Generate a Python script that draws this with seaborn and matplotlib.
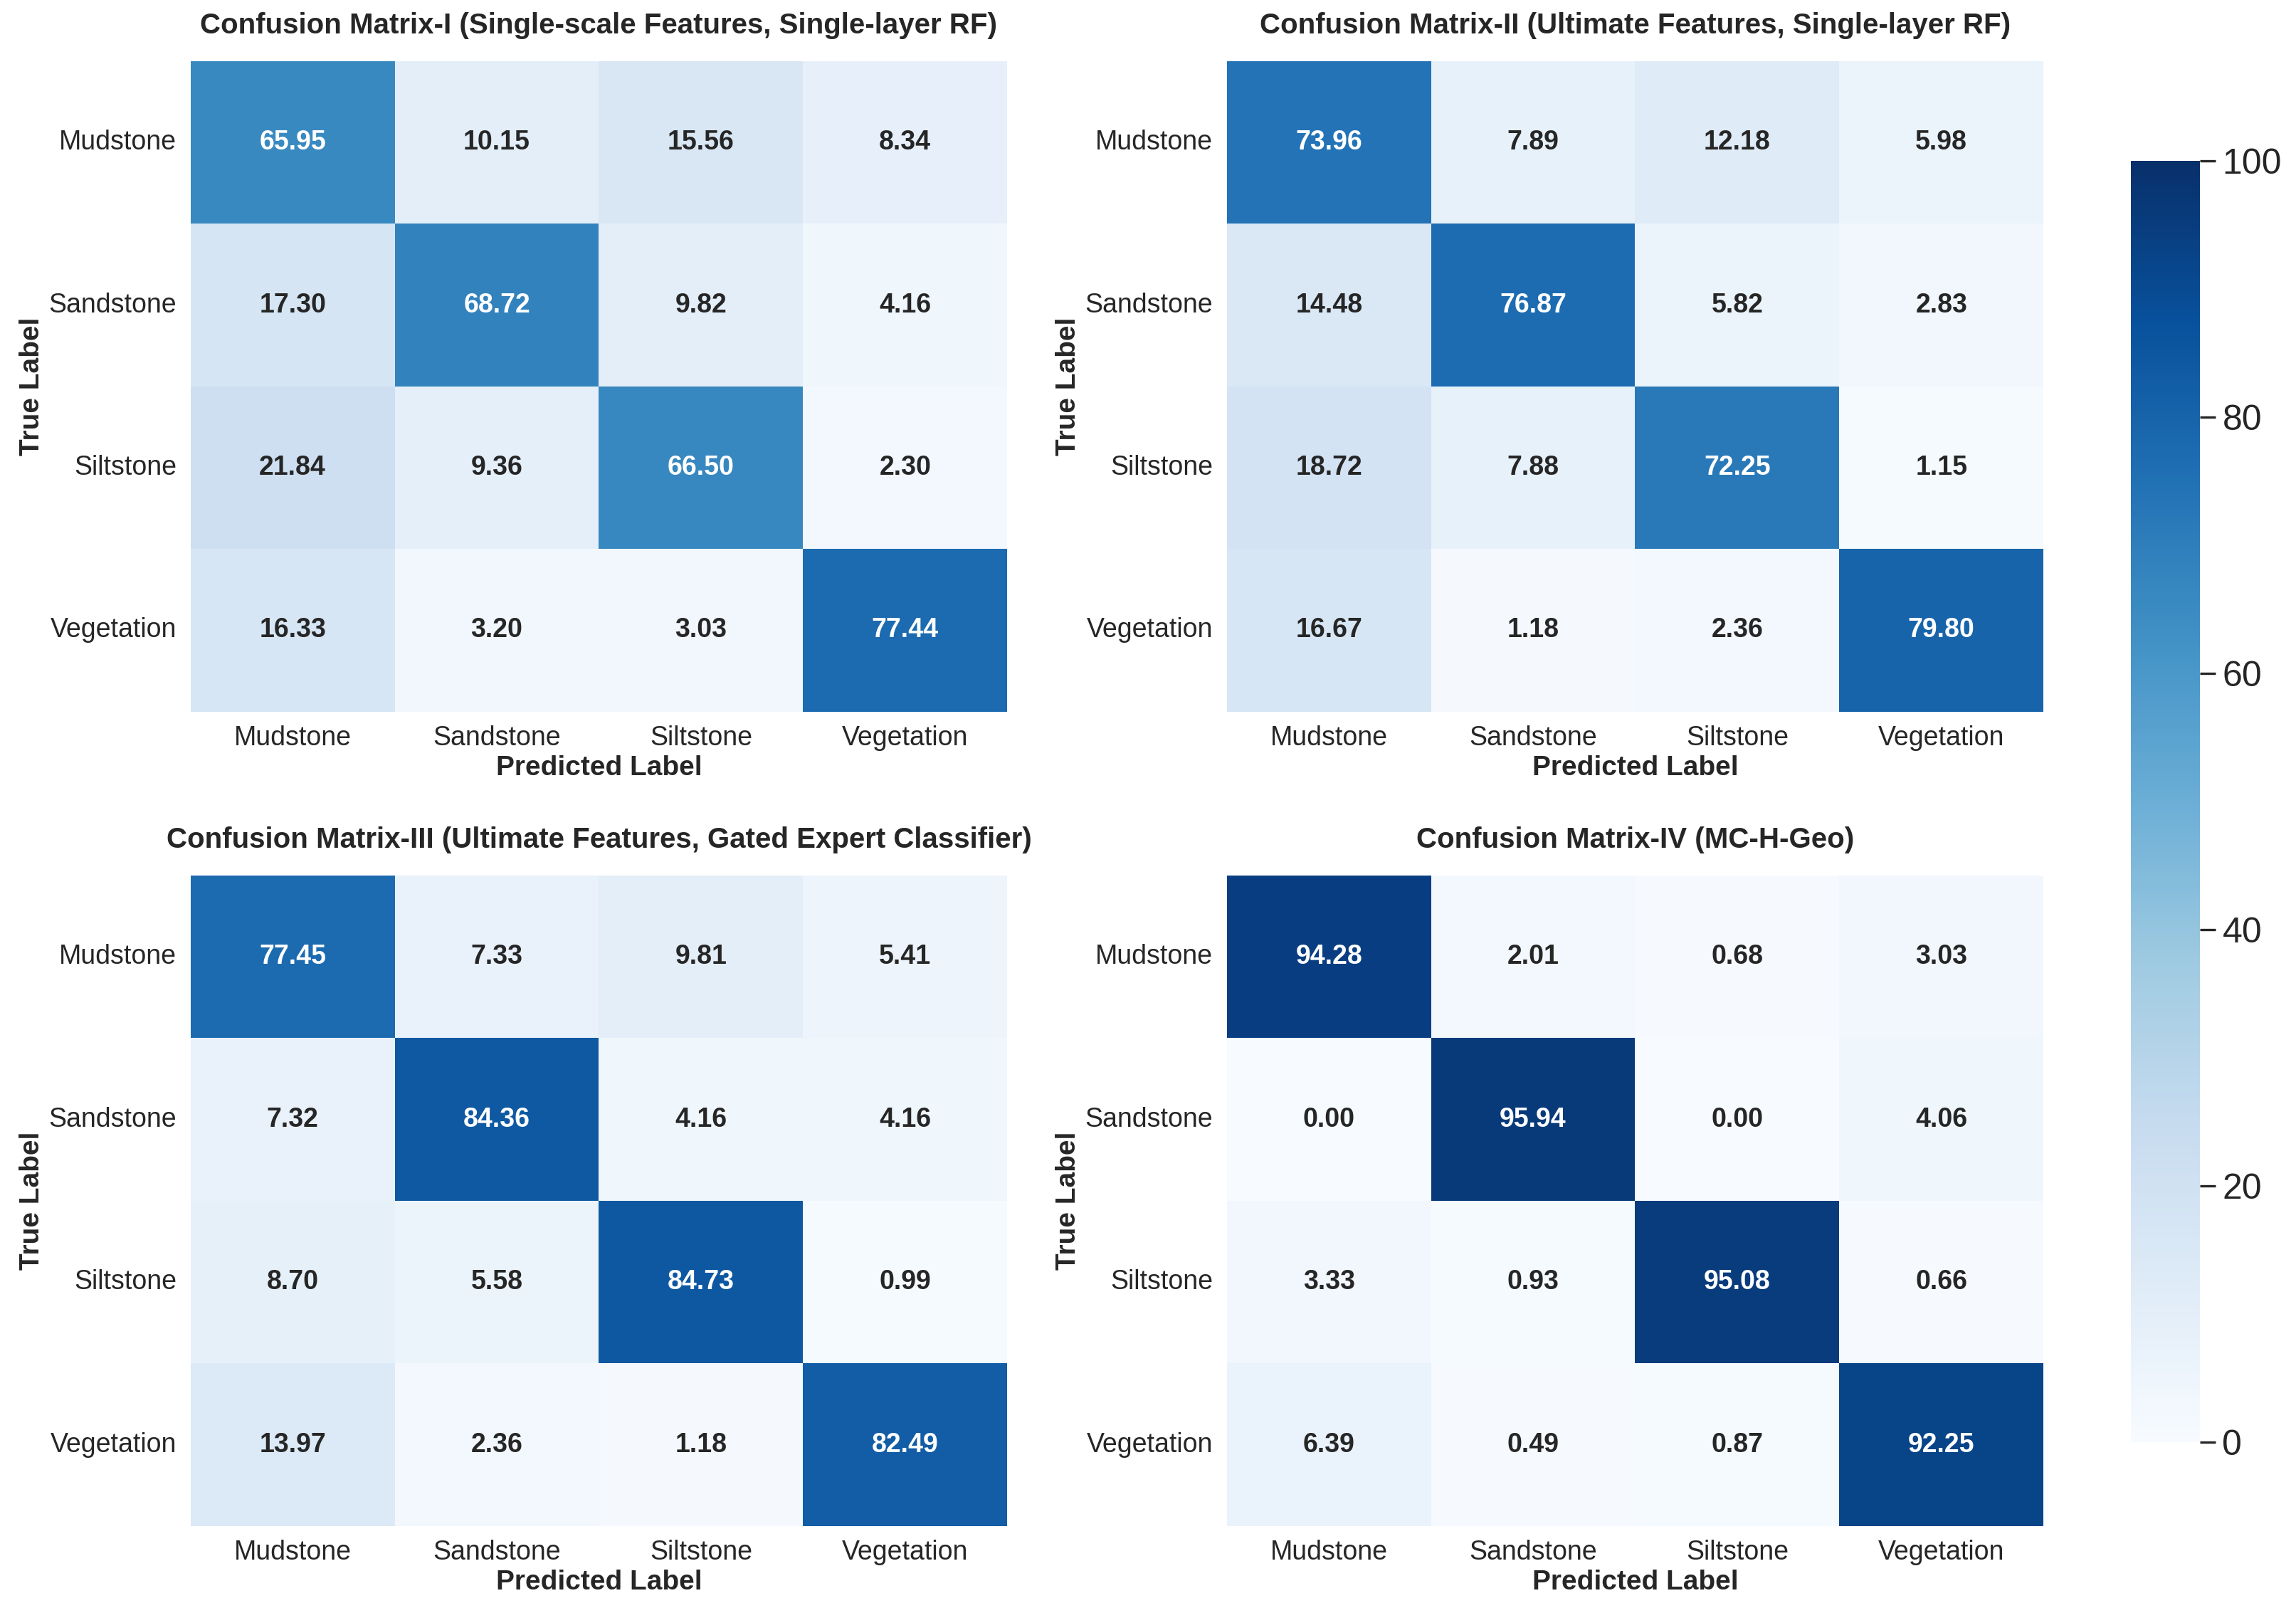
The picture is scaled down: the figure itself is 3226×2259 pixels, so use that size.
import numpy as np
import pandas as pd
import matplotlib
matplotlib.use('Agg')
import matplotlib.pyplot as plt
import seaborn as sns

CLASSES = ["Mudstone", "Sandstone", "Siltstone", "Vegetation"]

TITLES = [
    "Confusion Matrix-I (Single-scale Features, Single-layer RF)",
    "Confusion Matrix-II (Ultimate Features, Single-layer RF)",
    "Confusion Matrix-III (Ultimate Features, Gated Expert Classifier)",
    "Confusion Matrix-IV (MC-H-Geo)",
]

cm_1 = [
    [65.95, 10.15, 15.56, 8.34],
    [17.30, 68.72, 9.82, 4.16],
    [21.84, 9.36, 66.50, 2.30],
    [16.33, 3.20, 3.03, 77.44],
]
cm_2 = [
    [73.96, 7.89, 12.18, 5.98],
    [14.48, 76.87, 5.82, 2.83],
    [18.72, 7.88, 72.25, 1.15],
    [16.67, 1.18, 2.36, 79.80],
]
cm_3 = [
    [77.45, 7.33, 9.81, 5.41],
    [7.32, 84.36, 4.16, 4.16],
    [8.70, 5.58, 84.73, 0.99],
    [13.97, 2.36, 1.18, 82.49],
]
cm_4 = [
    [94.28, 2.01, 0.68, 3.03],
    [0.00, 95.94, 0.00, 4.06],
    [3.33, 0.93, 95.08, 0.66],
    [6.39, 0.49, 0.87, 92.25],
]
CBAR_TICKS = [0, 20, 40, 60, 80, 100]

sns.set_theme(style="ticks")
plt.rcParams['font.family'] = ['Liberation Sans', 'DejaVu Sans']

fig, axes = plt.subplots(2, 2, figsize=(16.13, 11.295), dpi=200)
fig.subplots_adjust(left=0.083, right=0.890, top=0.962, bottom=0.051,
                    wspace=0.269, hspace=0.252)
cax = fig.add_axes([0.928, 0.103, 0.030, 0.797])

for i, (ax, cm, title) in enumerate(zip(axes.flat, [cm_1, cm_2, cm_3, cm_4], TITLES)):
    df = pd.DataFrame(cm, index=CLASSES, columns=CLASSES)
    sns.heatmap(df, annot=True, fmt='.2f', cmap='Blues', vmin=0, vmax=100,
                ax=ax, cbar=(i == 0), cbar_ax=cax if i == 0 else None,
                annot_kws={'fontsize': 13.5, 'fontweight': 'bold'})
    ax.set_title(title, fontsize=14.5, fontweight='bold', pad=14)
    ax.set_xlabel('Predicted Label', fontsize=14, fontweight='bold', labelpad=2)
    ax.set_ylabel('True Label', fontsize=14, fontweight='bold', labelpad=2)
    ax.tick_params(axis='both', labelsize=13.5, length=0, pad=7)
    ax.set_yticklabels(ax.get_yticklabels(), rotation=0)

cbar = axes.flat[0].collections[0].colorbar
cbar.set_ticks(CBAR_TICKS)
cbar.ax.tick_params(labelsize=18, length=8, width=1.2)
cbar.outline.set_visible(False)

plt.savefig('out.png', dpi=200)
